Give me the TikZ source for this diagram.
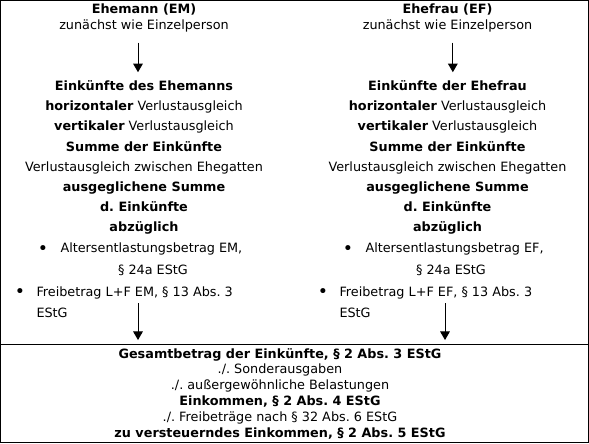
\documentclass[tikz,border=0pt]{standalone}
\usepackage{fontspec}
\setmainfont{DejaVu Sans}
\usetikzlibrary{arrows}
\frenchspacing

\begin{document}
\begin{tikzpicture}[x=0.75pt,y=-0.75pt,line width=0.75pt,
  every node/.style={font=\fontsize{9.6}{12}\selectfont, inner sep=0pt},
  blk/.style={align=center, font=\fontsize{9.6}{15.1}\selectfont},
  lst/.style={align=left, font=\fontsize{9.6}{15.75}\selectfont},
  fuss/.style={align=center, font=\fontsize{9.6}{11.85}\selectfont},
  pkt/.style={font=\fontsize{13}{13}\selectfont}]
 \useasboundingbox (0,0) rectangle (589,443);
 \draw (0.5,0.5) rectangle (588,442);
 \draw (0.5,344) -- (588,344);
 % Ehemann
 \node (em) [align=center] at (144,18) {\textbf{Ehemann (EM)}\\zunächst wie Einzelperson};
 \node (ekm) [blk] at (144,157.5) {\textbf{Einkünfte des Ehemanns}\\ \textbf{horizontaler} Verlustausgleich\\
   \textbf{vertikaler} Verlustausgleich\\ \textbf{Summe der Einkünfte}\\ Verlustausgleich zwischen Ehegatten\\
   \textbf{ausgeglichene Summe}\\ \textbf{d. Einkünfte}\\ \textbf{abzüglich}};
 \node (b1m) [pkt] at (43,250) {\textbullet};
 \node (aem) [anchor=west] at (60,249) {Altersentlastungsbetrag EM,};
 \node (aem2) at (153,270) {§ 24a EStG};
 \node (b2m) [pkt] at (20,293) {\textbullet};
 \node (fem) [lst, anchor=west] at (36,302.5) {Freibetrag L+F EM, § 13 Abs. 3\\EStG};
 % Ehefrau
 \node (ef) [align=center] at (447.5,18) {\textbf{Ehefrau (EF)}\\zunächst wie Einzelperson};
 \node (ekf) [blk] at (447.5,157.5) {\textbf{Einkünfte der Ehefrau}\\ \textbf{horizontaler} Verlustausgleich\\
   \textbf{vertikaler} Verlustausgleich\\ \textbf{Summe der Einkünfte}\\ Verlustausgleich zwischen Ehegatten\\
   \textbf{ausgeglichene Summe}\\ \textbf{d. Einkünfte}\\ \textbf{abzüglich}};
 \node (b1f) [pkt] at (348,250) {\textbullet};
 \node (aef) [anchor=west] at (365,249) {Altersentlastungsbetrag EF,};
 \node (aef2) at (451,270) {§ 24a EStG};
 \node (b2f) [pkt] at (323,293) {\textbullet};
 \node (fef) [lst, anchor=west] at (339,302.5) {Freibetrag L+F EF, § 13 Abs. 3\\EStG};
 % gemeinsam
 \node (ges) [fuss] at (280,393.5) {\textbf{Gesamtbetrag der Einkünfte, § 2 Abs. 3 EStG}\\ ./. Sonderausgaben\\
   ./. außergewöhnliche Belastungen\\ \textbf{Einkommen, § 2 Abs. 4 EStG}\\
   ./. Freibeträge nach § 32 Abs. 6 EStG\\ \textbf{zu versteuerndes Einkommen, § 2 Abs. 5 EStG}};
 \coordinate (sl) at (138,303);
 \coordinate (zl) at (138,340);
 \coordinate (sr) at (445,303);
 \coordinate (zr) at (445,340);
 \path[-triangle 60]
  ([xshift=-4.5pt]em.south) edge [shorten <=7.5pt, shorten >=6pt] ([xshift=-4.5pt]ekm.north)
  ([xshift=4pt]ef.south) edge [shorten <=7.5pt, shorten >=6pt] ([xshift=4pt]ekf.north)
  (sl) edge (zl)
  (sr) edge (zr);
\end{tikzpicture}
\end{document}
